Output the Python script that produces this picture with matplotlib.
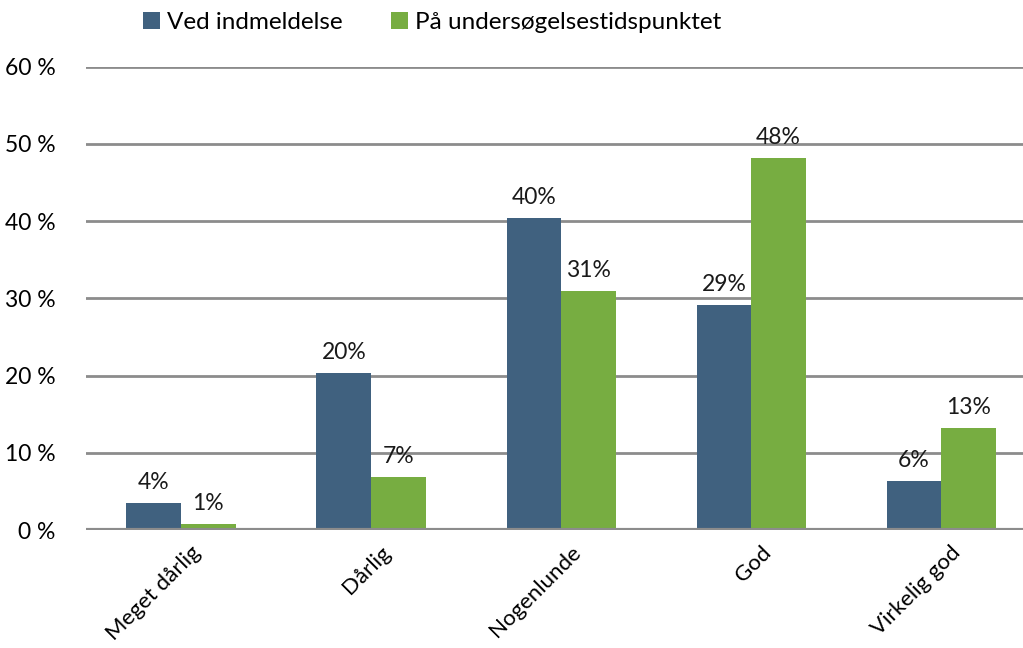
import matplotlib
matplotlib.use('Agg')
import matplotlib.pyplot as plt
import numpy as np

plt.rcParams['font.family'] = ['Lato', 'DejaVu Sans']

categories = ['Meget dårlig', 'Dårlig', 'Nogenlunde', 'God', 'Virkelig god']
ved_indmeldelse = [3.5, 20.3, 40.4, 29.2, 6.3]
undersoegelse = [0.8, 6.9, 30.9, 48.2, 13.2]
ved_labels = ['4%', '20%', '40%', '29%', '6%']
und_labels = ['1%', '7%', '31%', '48%', '13%']
series_names = ['Ved indmeldelse', 'På undersøgelsestidspunktet']
yticks = [0, 10, 20, 30, 40, 50, 60]

blue = '#40617F'
green = '#77AD41'

fig = plt.figure(figsize=(10.23, 6.48), dpi=100)
ax = fig.add_axes([0.084, 0.182, 0.916, 0.715])

x = np.arange(len(categories))
w = 0.287
b1 = ax.bar(x - w/2, ved_indmeldelse, w, color=blue, label=series_names[0], zorder=3)
b2 = ax.bar(x + w/2, undersoegelse, w, color=green, label=series_names[1], zorder=3)

for rect, lab in zip(b1, ved_labels):
    ax.text(rect.get_x() + rect.get_width()/2, rect.get_height() + 1.3, lab,
            ha='center', va='bottom', fontsize=16.5, color='#1a1a1a')
for rect, lab in zip(b2, und_labels):
    ax.text(rect.get_x() + rect.get_width()/2, rect.get_height() + 1.3, lab,
            ha='center', va='bottom', fontsize=16.5, color='#1a1a1a')

ax.set_ylim(0, 60)
ax.set_xlim(-0.5, 4.43)
ax.set_yticks(yticks)
ax.set_yticklabels(['%d %%' % v for v in yticks], fontsize=16.5)
ax.yaxis.grid(True, color='#8C8C8C', linewidth=2, zorder=0)
ax.axhline(0, color='#8C8C8C', linewidth=3, zorder=4)
ax.tick_params(axis='y', length=0, pad=22)
ax.tick_params(axis='x', length=0, pad=9)
ax.set_xticks(x + 0.05)
ax.set_xticklabels(categories, rotation=45, ha='right', rotation_mode='anchor', fontsize=16)
for s in ax.spines.values():
    s.set_visible(False)

fig.legend(handles=[b1, b2], loc='upper left', bbox_to_anchor=(0.118, 1.015), ncol=2,
           frameon=False, fontsize=17.5, handlelength=0.7, handleheight=0.7,
           handletextpad=0.3, columnspacing=2.0)

plt.savefig('out.png', dpi=100)
